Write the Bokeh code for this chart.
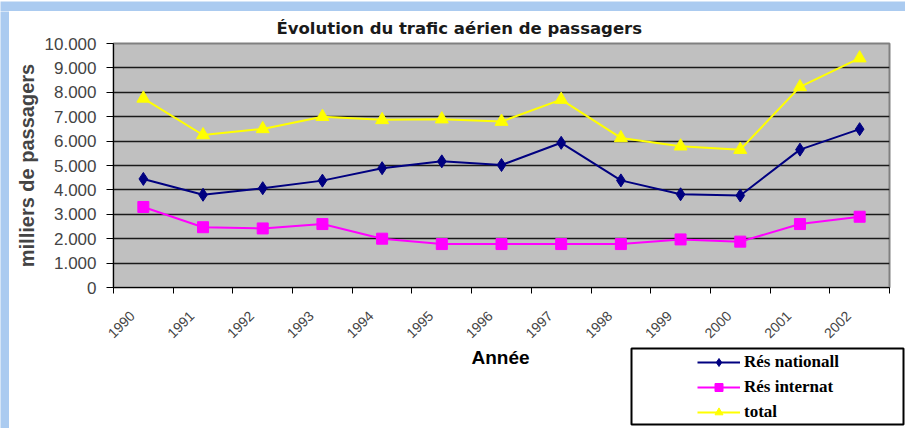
import math
from bokeh.plotting import figure
from bokeh.layouts import column, row
from bokeh.models import (Range1d, FixedTicker, Legend, LegendItem,
                          BoxAnnotation, ColumnDataSource, Label)
from bokeh.embed import file_html
from bokeh.resources import INLINE

# ---- data ----
years = ["1990", "1991", "1992", "1993", "1994", "1995", "1996",
         "1997", "1998", "1999", "2000", "2001", "2002"]
res_national = [4450, 3800, 4070, 4380, 4890, 5170, 5020,
                5930, 4390, 3820, 3770, 5650, 6490]
res_internat = [3300, 2470, 2420, 2600, 2000, 1780, 1780,
                1780, 1780, 1970, 1880, 2600, 2900]
total = [7750, 6250, 6500, 7000, 6870, 6900, 6800,
         7700, 6130, 5790, 5650, 8220, 9400]
y_ticks = [0, 1000, 2000, 3000, 4000, 5000, 6000, 7000, 8000, 9000, 10000]
y_tick_labels = ["0", "1.000", "2.000", "3.000", "4.000", "5.000",
                 "6.000", "7.000", "8.000", "9.000", "10.000"]
series_names = ["Rés nationall", "Rés internat", "total"]
series_colors = ["#000080", "#ff00ff", "#ffff00"]
series_markers = ["diamond", "square", "triangle"]
marker_sizes = [13, 11, 13]

FRAME_BLUE = "#abcbf0"


def no_frame_align(fig):
    if "frame_align" in fig.properties():
        fig.frame_align = False


idx = list(range(len(years)))
src = ColumnDataSource(dict(x=idx, nat=res_national, intl=res_internat, tot=total))

# ---- main chart ----
p = figure(width=896, height=335,
           x_range=Range1d(-0.5, len(years) - 0.5),
           y_range=Range1d(y_ticks[0], y_ticks[-1]),
           output_backend="svg", toolbar_location=None,
           min_border_left=104, min_border_right=16,
           min_border_top=32, min_border_bottom=59,
           background_fill_color="#c0c0c0", border_fill_color="white",
           outline_line_color="#808080", outline_line_width=2)
no_frame_align(p)

p.title.text = "Évolution du trafic aérien de passagers"
p.title.align = "left"
p.title.offset = 163
p.title.text_font = "DejaVu Sans"
p.title.text_font_size = "16.5px"
p.title.text_font_style = "bold"
p.title.text_color = "#1a1a1a"
p.title.standoff = 11

# grid
p.xgrid.grid_line_color = None
p.ygrid.ticker = FixedTicker(ticks=y_ticks)
p.ygrid.grid_line_color = "#1a1a1a"
p.ygrid.grid_line_width = 1.5

# y axis
p.yaxis.ticker = FixedTicker(ticks=y_ticks)
p.yaxis.major_label_overrides = {t: l for t, l in zip(y_ticks, y_tick_labels)}
p.yaxis.axis_label = "milliers de passagers"
p.yaxis.axis_label_text_font = "Liberation Sans"
p.yaxis.axis_label_text_font_size = "20px"
p.yaxis.axis_label_text_font_style = "bold"
p.yaxis.axis_label_standoff = 4
p.yaxis.major_label_text_font = "Liberation Sans"
p.yaxis.major_label_text_font_size = "17px"
p.yaxis.major_label_standoff = 10
p.yaxis.major_tick_out = 7
p.yaxis.major_tick_in = 0
p.yaxis.minor_tick_line_color = None
p.yaxis.axis_line_color = "black"
p.yaxis.major_tick_line_color = "black"

# x axis: labels slightly left of category centres, ticks on category boundaries
label_pos = [i - 0.1875 for i in idx]
p.xaxis.ticker = FixedTicker(ticks=label_pos,
                             minor_ticks=[i - 0.5 for i in range(len(years) + 1)])
p.xaxis.major_label_overrides = {pos: y for pos, y in zip(label_pos, years)}
p.xaxis.major_label_orientation = math.pi / 4
p.xaxis.major_tick_line_color = None
p.xaxis.major_tick_out = 6
p.xaxis.minor_tick_out = 6
p.xaxis.minor_tick_in = 0
p.xaxis.minor_tick_line_color = "black"
p.xaxis.axis_line_color = "black"
p.xaxis.major_label_text_font = "Liberation Sans"
p.xaxis.major_label_text_font_size = "14px"
p.xaxis.major_label_standoff = 20

# series
cols = ["nat", "intl", "tot"]
for c, col, mk, ms in zip(cols, series_colors, series_markers, marker_sizes):
    p.line("x", c, source=src, line_color=col, line_width=2)
    p.scatter("x", c, source=src, marker=mk, size=ms, fill_color=col, line_color=col)

# ---- bottom strip: axis title + legend ----
q = figure(width=896, height=82, x_range=Range1d(0, 896), y_range=Range1d(0, 82),
           output_backend="svg", toolbar_location=None,
           x_axis_location=None, y_axis_location=None,
           min_border=0, min_border_left=0, min_border_right=0,
           min_border_top=0, min_border_bottom=0,
           background_fill_color="white", border_fill_color="white",
           outline_line_color=None)
no_frame_align(q)
q.grid.grid_line_color = None

q.add_layout(Label(x=491, y=71, text="Année", text_align="center",
                   text_baseline="alphabetic", text_font="Liberation Sans",
                   text_font_size="19px", text_font_style="bold", text_color="black"))

q.add_layout(BoxAnnotation(left=622, right=894, bottom=4, top=80,
                           fill_color="white", fill_alpha=1.0,
                           line_color="black", line_width=2, line_alpha=1.0))

items = []
nan = float("nan")
for name, col, mk, ms in zip(series_names, series_colors, series_markers, marker_sizes):
    lr = q.line(x=[nan], y=[nan], line_color=col, line_width=2)
    sr = q.scatter(x=[nan], y=[nan], marker=mk, size=ms, fill_color=col, line_color=col)
    items.append(LegendItem(label=name, renderers=[lr, sr]))

legend = Legend(items=items, location=(684, 2), border_line_alpha=0,
                background_fill_alpha=0, padding=4, spacing=5, margin=0,
                glyph_width=43, glyph_height=20, label_standoff=4,
                label_text_font="Liberation Serif", label_text_font_style="bold",
                label_text_font_size="17px", label_text_color="black")
q.add_layout(legend)

# ---- blue frame strips ----
top_strip = figure(width=905, height=11, output_backend="svg", toolbar_location=None,
                   x_axis_location=None, y_axis_location=None, min_border=0,
                   background_fill_color=FRAME_BLUE, border_fill_color=FRAME_BLUE,
                   outline_line_color=None)
top_strip.grid.grid_line_color = None
no_frame_align(top_strip)
left_strip = figure(width=9, height=417, output_backend="svg", toolbar_location=None,
                    x_axis_location=None, y_axis_location=None, min_border=0,
                    background_fill_color=FRAME_BLUE, border_fill_color=FRAME_BLUE,
                    outline_line_color=None)
left_strip.grid.grid_line_color = None
no_frame_align(left_strip)

layout = column(top_strip, row(left_strip, column(p, q, spacing=0), spacing=0), spacing=0)

open("out.html", "w").write(file_html(layout, INLINE))
